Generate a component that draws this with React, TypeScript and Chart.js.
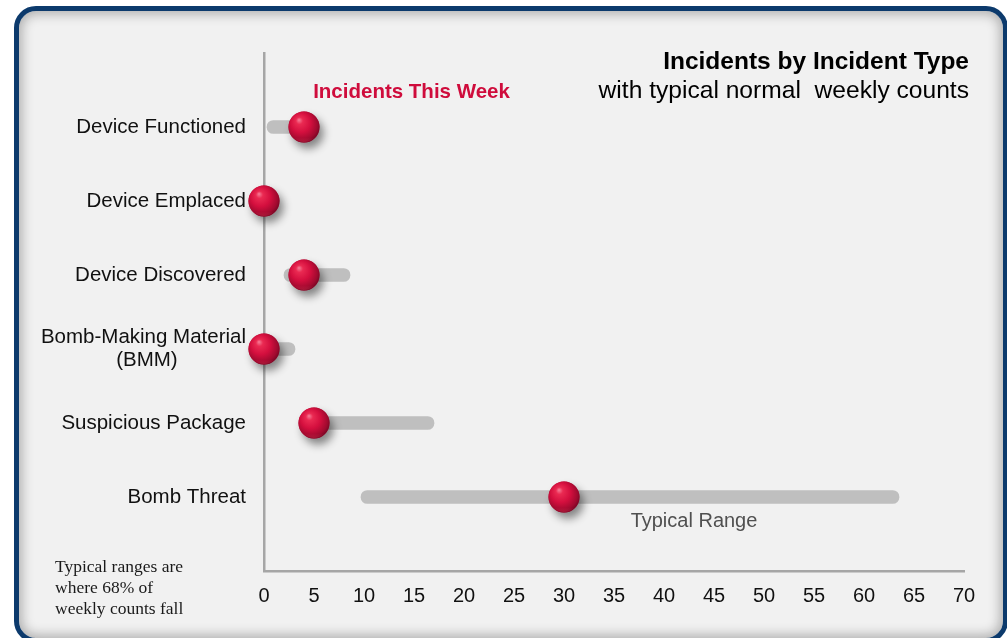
import React, { useEffect, useRef } from 'react';
import { Chart, registerables } from 'chart.js';

Chart.register(...registerables);

// ---- data ----
const categories: (string | string[])[] = [
  'Device Functioned',
  'Device Emplaced',
  'Device Discovered',
  ['Bomb-Making Material', '(BMM)            '],
  'Suspicious Package',
  'Bomb Threat',
];
const incidentsThisWeek = [4, 0, 4, 0, 5, 30];
const typicalLow: (number | null)[] = [0.3, null, 2, 0, 4, 9.7];
const typicalHigh: (number | null)[] = [4, null, 8.6, 3.1, 17, 63.5];
const xMin = 0;
const xMax = 70;
const xStep = 5;

const titleText = 'Incidents by Incident Type';
const subtitleText = 'with typical normal  weekly counts';
const seriesLabel = 'Incidents This Week';
const rangeLabel = 'Typical Range';
const footnoteLines = ['Typical ranges are', 'where 68% of', 'weekly counts fall'];

const SANS = '"Liberation Sans", Arial, Helvetica, sans-serif';
const SERIF = '"Liberation Serif", "Times New Roman", serif';

function makeBall(): HTMLCanvasElement {
  const c = document.createElement('canvas');
  const S = 64;
  c.width = S;
  c.height = S;
  const g = c.getContext('2d') as CanvasRenderingContext2D;
  const cx = S / 2;
  const cy = S / 2;
  const r = 15.5;
  g.save();
  g.shadowColor = 'rgba(0,0,0,0.45)';
  g.shadowBlur = 8;
  g.shadowOffsetX = 4;
  g.shadowOffsetY = 6;
  g.beginPath();
  g.arc(cx, cy, r, 0, Math.PI * 2);
  g.fillStyle = '#b00d33';
  g.fill();
  g.restore();
  const grad = g.createRadialGradient(cx - 5, cy - 7, 0.5, cx - 2, cy - 2, r + 4);
  grad.addColorStop(0, '#f5738e');
  grad.addColorStop(0.16, '#ea2a52');
  grad.addColorStop(0.5, '#d40f3e');
  grad.addColorStop(0.82, '#a00a2f');
  grad.addColorStop(1, '#6a0520');
  g.beginPath();
  g.arc(cx, cy, r, 0, Math.PI * 2);
  g.fillStyle = grad;
  g.fill();
  const rim = g.createLinearGradient(0, cy + r - 5, 0, cy + r);
  rim.addColorStop(0, 'rgba(230,60,90,0)');
  rim.addColorStop(1, 'rgba(230,60,90,0.35)');
  g.beginPath();
  g.arc(cx, cy, r - 0.5, 0.15 * Math.PI, 0.85 * Math.PI);
  g.closePath();
  g.fillStyle = rim;
  g.fill();
  return c;
}

const annotationsPlugin = {
  id: 'annotations',
  afterDraw(chart: any) {
    const ctx: CanvasRenderingContext2D = chart.ctx;
    const area = chart.chartArea;
    const xs = chart.scales.x;
    const ys = chart.scales.y;
    ctx.save();
    ctx.textAlign = 'right';
    ctx.textBaseline = 'alphabetic';
    ctx.fillStyle = '#000';
    ctx.font = `bold 24.5px ${SANS}`;
    ctx.fillText(titleText, area.right + 5, 69);
    ctx.font = `24.6px ${SANS}`;
    ctx.fillText(subtitleText, area.right + 5, 98);
    ctx.textAlign = 'center';
    ctx.fillStyle = '#cf0c3c';
    ctx.font = `bold 20.5px ${SANS}`;
    ctx.fillText(seriesLabel, xs.getPixelForValue(14.75), ys.getPixelForValue(0) + 45);
    ctx.fillStyle = '#505050';
    ctx.font = `20px ${SANS}`;
    ctx.fillText(rangeLabel, xs.getPixelForValue(43), ys.getPixelForValue(6) + 30);
    ctx.textAlign = 'left';
    ctx.fillStyle = '#1a1a1a';
    ctx.font = `17.5px ${SERIF}`;
    footnoteLines.forEach((t, i) => ctx.fillText(t, 55, 572 + i * 21));
    ctx.restore();
  },
};

export default function App() {
  const ref = useRef<HTMLCanvasElement | null>(null);

  useEffect(() => {
    if (!ref.current) return;
    const ball = makeBall();
    const labels = ['', ...categories, ''];
    const pad = (a: (number | null)[]) => [null, ...a, null];
    const ranges = [
      null,
      ...typicalLow.map((lo, i) => (lo === null || typicalHigh[i] === null ? null : [lo, typicalHigh[i]])),
      null,
    ];

    const chart = new Chart(ref.current, {
      type: 'bar',
      data: {
        labels: labels as any,
        datasets: [
          {
            type: 'line',
            label: seriesLabel,
            data: pad(incidentsThisWeek) as any,
            showLine: false,
            pointStyle: ball as any,
            pointRadius: 16,
            pointHoverRadius: 16,
            clip: false,
            order: 0,
          } as any,
          {
            type: 'bar',
            label: rangeLabel,
            data: ranges as any,
            backgroundColor: '#bfbfbf',
            borderWidth: 0,
            borderRadius: 7,
            borderSkipped: false,
            barThickness: 13,
            order: 1,
          } as any,
        ],
      },
      options: {
        indexAxis: 'y',
        responsive: false,
        animation: false,
        events: [],
        layout: { padding: { left: 0, right: 43, top: 53, bottom: 0 } },
        plugins: {
          legend: { display: false },
          tooltip: { enabled: false },
          title: { display: false },
        },
        scales: {
          x: {
            type: 'linear',
            min: xMin,
            max: xMax,
            position: 'bottom',
            grid: { display: false, drawTicks: false },
            border: { display: true, color: '#a6a6a6', width: 2.5 },
            ticks: {
              stepSize: xStep,
              padding: 13,
              color: '#111',
              font: { family: SANS, size: 20 },
              maxRotation: 0,
            },
            afterFit: (s: any) => {
              s.height = 67;
            },
          },
          y: {
            type: 'category',
            offset: false,
            grid: { display: false, drawTicks: false },
            border: { display: true, color: '#a6a6a6', width: 2.5 },
            ticks: {
              autoSkip: false,
              padding: 18,
              color: '#111',
              font: { family: SANS, size: 20.5, lineHeight: 1.15 },
            },
            afterFit: (s: any) => {
              s.width = 264;
            },
          },
        },
      } as any,
      plugins: [annotationsPlugin],
    });
    return () => chart.destroy();
  }, []);

  return (
    <div
      style={{
        position: 'fixed',
        left: 0,
        top: 0,
        width: 1007,
        height: 638,
        overflow: 'hidden',
        background: '#fff',
      }}
    >
      <div
        style={{
          position: 'absolute',
          left: 14,
          top: 6,
          width: 994,
          height: 637,
          boxSizing: 'border-box',
          border: '5px solid #0c3a6c',
          borderRadius: 22,
          background: '#f1f1f1',
          boxShadow: 'inset 0 0 12px 3px rgba(0,0,0,0.28)',
        }}
      />
      <canvas
        ref={ref}
        width={1007}
        height={638}
        style={{ position: 'absolute', left: 0, top: 0, width: 1007, height: 638 }}
      />
    </div>
  );
}
